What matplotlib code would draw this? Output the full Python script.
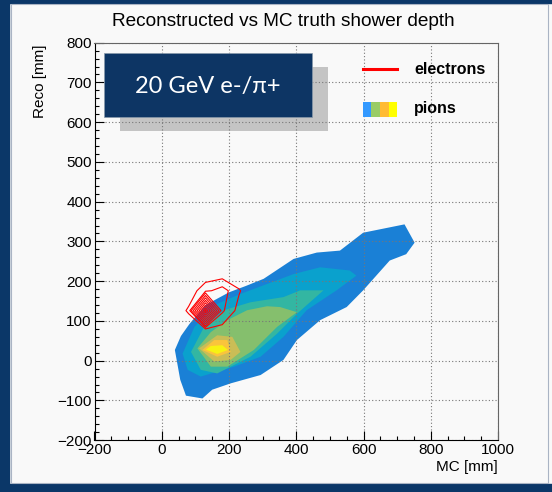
import numpy as np
import matplotlib
matplotlib.use('Agg')
import matplotlib.pyplot as plt
from matplotlib.patches import Rectangle
from matplotlib.lines import Line2D
from matplotlib.ticker import MultipleLocator

plt.rcParams['font.family'] = ['Liberation Sans', 'DejaVu Sans']

# pion contour bands, (MC, Reco) in mm, outermost first
pion_band1 = [(39, 27), (55, -48), (72, -88), (121, -95), (150, -73), (205, -57), (294, -36),
              (362, 2), (402, 52), (471, 102), (550, 135), (599, 177), (678, 252), (727, 268),
              (752, 297), (722, 343), (599, 322), (530, 277), (461, 272), (392, 256), (303, 206),
              (250, 188), (200, 172), (130, 140), (82, 92), (57, 62)]
pion_band2 = [(62, 18), (77, -23), (116, -40), (215, -15), (294, 10), (362, 60), (431, 127),
              (520, 177), (579, 214), (559, 227), (471, 235), (392, 218), (313, 193), (234, 168),
              (165, 143), (97, 85)]
pion_band3 = [(87, 22), (116, -23), (165, -32), (264, 10), (343, 68), (402, 118), (481, 177),
              (412, 177), (362, 160), (264, 147), (185, 127), (126, 85)]
pion_band4 = [(106, 31), (146, -15), (195, -15), (274, 27), (343, 85), (402, 122), (352, 135),
              (313, 137), (254, 127), (195, 102), (146, 72)]
pion_band5 = [(111, 31), (156, -2), (205, 2), (234, 22), (210, 60), (165, 64)]
pion_band6 = [(121, 27), (165, 10), (205, 22), (195, 52), (156, 52)]
pion_band7 = [(131, 28), (165, 17), (197, 27), (180, 39), (146, 37)]
pion_bands = [pion_band1, pion_band2, pion_band3, pion_band4, pion_band5, pion_band6, pion_band7]
pion_colors = ['#1a80d6', '#0aa1cd', '#33b6a2', '#85bf6d', '#cabd56', '#fac43c', '#f7f213']

# electron 2D histogram (bin centres in mm)
e_mc = [30, 80, 130, 180, 230, 280]
e_reco = [26, 76, 126, 176, 226]
e_counts = [[0, 0, 0, 0, 0, 0],
            [0, 0, 0, 0.5, 0, 0],
            [0, 1.19, 13, 2.2, 0.6, 0],
            [0, 0.3, 1.72, 2.5, 1.1, 0],
            [0, 0, 0, 0, 0, 0]]
e_levels = [1, 2, 3, 4.4, 5.8, 7.2, 8.6, 10, 11.4, 12.5]

W, H = 552, 492
navy = '#0b3768'

fig = plt.figure(figsize=(W / 100, H / 100), dpi=100)
fig.patch.set_facecolor('#f9f9f9')

# slide frame
fig.add_artist(Rectangle((0, 0), 9 / W, 1, transform=fig.transFigure, color=navy, zorder=0))
fig.add_artist(Rectangle((0, 1 - 3 / H), 1, 3 / H, transform=fig.transFigure, color=navy, zorder=0))
fig.add_artist(Rectangle((0, 0), 1, 8 / H, transform=fig.transFigure, color=navy, zorder=0))
fig.add_artist(Rectangle((11 / W, 9 / H), 537 / W, 479 / H, transform=fig.transFigure,
                         fill=False, edgecolor='#aab4c4', lw=0.8, zorder=0))

left, right, top, bottom = 94.5, 498, 42.7, 440.2
ax = fig.add_axes([left / W, 1 - bottom / H, (right - left) / W, (bottom - top) / H])
ax.set_facecolor('#f9f9f9')

for band, col in zip(pion_bands, pion_colors):
    xs, ys = zip(*band)
    ax.fill(xs, ys, color=col, lw=0, zorder=1)

ax.contour(e_mc, e_reco, np.array(e_counts), levels=e_levels, colors='red',
           linewidths=0.8, zorder=3)

ax.set_xlim(-200, 1000)
ax.set_ylim(-200, 800)
ax.set_xticks(range(-200, 1001, 200))
ax.set_yticks(range(-200, 801, 100))
ax.xaxis.set_minor_locator(MultipleLocator(50))
ax.yaxis.set_minor_locator(MultipleLocator(20))
ax.tick_params(which='both', direction='in', top=False, right=False, width=0.8)
ax.tick_params(which='major', length=6.5, labelsize=11, pad=2)
ax.tick_params(which='minor', length=3.2)
ax.grid(True, which='major', linestyle=(0, (1, 2)), color='#777777', linewidth=0.8)
for s in ['left', 'bottom']:
    ax.spines[s].set_color('black')
    ax.spines[s].set_linewidth(0.8)
for s in ['top', 'right']:
    ax.spines[s].set_color('#666666')
    ax.spines[s].set_linewidth(0.8)

fig.text(283 / W, 1 - 22 / H, 'Reconstructed vs MC truth shower depth', fontsize=13.7,
         ha='center', va='center')
fig.text(40 / W, 1 - 45 / H, 'Reco [mm]', fontsize=11, rotation=90, ha='center', va='top')
fig.text(498 / W, 1 - 467 / H, 'MC [mm]', fontsize=11, ha='right', va='center')

# energy label box with shadow
ax.add_patch(Rectangle((120 / W, 1 - 131.3 / H), 207.7 / W, 64 / H, transform=fig.transFigure,
                       color='#c4c4c4', lw=0, zorder=1.2, clip_on=False))
ax.add_patch(Rectangle((104 / W, 1 - 117 / H), 208.3 / W, 64.3 / H, transform=fig.transFigure,
                       facecolor='#0d3564', edgecolor='#8899aa', lw=0.5, zorder=4, clip_on=False))
fig.text(208 / W, 1 - 86 / H, '20 GeV e-/\u03c0+', color='white', fontsize=17,
         family=['Lato', 'DejaVu Sans'], ha='center', va='center', zorder=5)

# legend
fig.add_artist(Line2D([362.7 / W, 396.7 / W], [1 - 69 / H] * 2, transform=fig.transFigure,
                      color='red', lw=2.2))
swatch = ['#3399ff', '#99cc66', '#ffbb33', '#ffff00']
sw = (397.3 - 362.7) / 4
for i, c in enumerate(swatch):
    fig.add_artist(Rectangle(((362.7 + i * sw) / W, 1 - 117.3 / H), sw / W, 15.6 / H,
                             transform=fig.transFigure, color=c, lw=0))
fig.text(414 / W, 1 - 69 / H, 'electrons', fontsize=11.5, fontweight='bold', va='center')
fig.text(414 / W, 1 - 109 / H, 'pions', fontsize=11.5, fontweight='bold', va='center')

fig.savefig('out.png', dpi=100, facecolor=fig.get_facecolor())
